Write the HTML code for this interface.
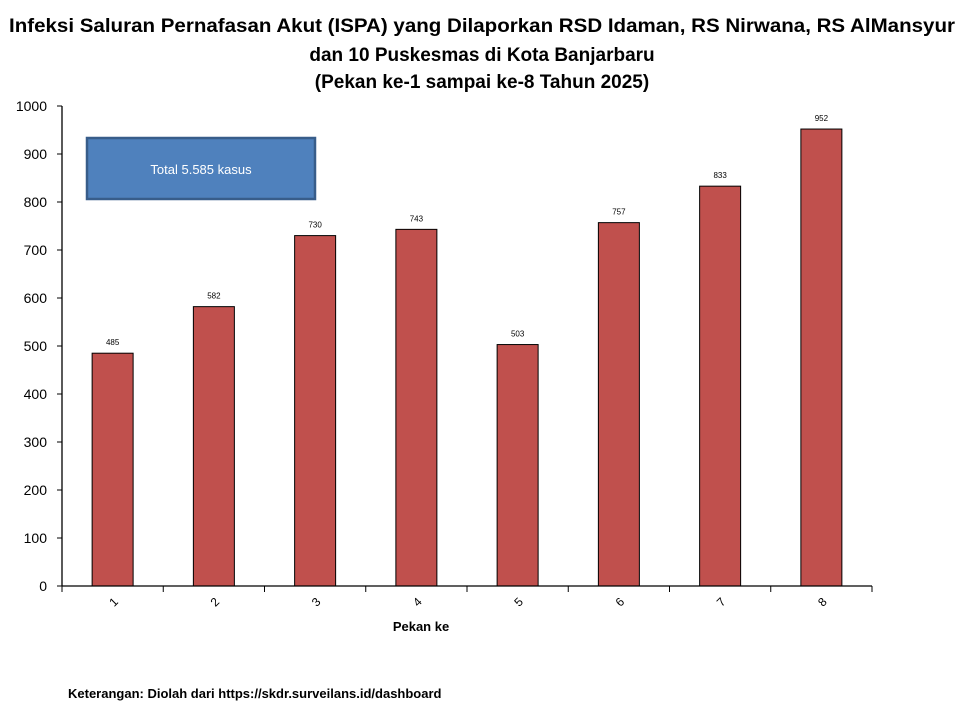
<!DOCTYPE html>
<html><head><meta charset="utf-8"><style>
body{margin:0;background:#fff;width:960px;height:720px;overflow:hidden;font-family:"Liberation Sans",sans-serif}
svg{display:block}
</style></head><body>
<svg width="960" height="720" xmlns="http://www.w3.org/2000/svg">
<g font-family="Liberation Sans, sans-serif" font-weight="bold" font-size="19" text-anchor="middle" fill="#000">
<text x="482" y="32" textLength="946" lengthAdjust="spacingAndGlyphs">Infeksi Saluran Pernafasan Akut (ISPA) yang Dilaporkan RSD Idaman, RS Nirwana, RS AlMansyur</text>
<text x="482" y="61">dan 10 Puskesmas di Kota Banjarbaru</text>
<text x="482" y="88">(Pekan ke-1 sampai ke-8 Tahun 2025)</text>
</g>
<g id="plot"></g>
<g>
<rect x="87" y="138" width="228" height="61" fill="#4f81bd" stroke="#385d8a" stroke-width="2.5"/>
<text x="201" y="174" font-size="13" fill="#fff" text-anchor="middle">Total 5.585 kasus</text>
</g>
<text x="421" y="631" font-size="13" font-weight="bold" text-anchor="middle">Pekan ke</text>
<text x="68" y="698" font-size="13" font-weight="bold">Keterangan: Diolah dari https://skdr.surveilans.id/dashboard</text>
</svg>
<script>
const categories = ["1","2","3","4","5","6","7","8"];
const values = [485,582,730,743,503,757,833,952];
const yTicks = [0,100,200,300,400,500,600,700,800,900,1000];
const NS="http://www.w3.org/2000/svg";
const x0=62,x1=872,y0=586,yTop=106,yMax=1000;
const yS=v=>y0-(v/yMax)*(y0-yTop);
const band=(x1-x0)/categories.length;
const xS=i=>x0+band*i;
const g=document.getElementById('plot');
function mk(t,a,p){const e=document.createElementNS(NS,t);for(const k in a)e.setAttribute(k,a[k]);(p||g).appendChild(e);return e;}
// bars
values.forEach((v,i)=>{
  const cx=xS(i)+band/2, w=41;
  const r=mk('rect',{x:cx-w/2,y:yS(v),width:w,height:y0-yS(v),fill:'#c0504d',stroke:'#000','stroke-width':1});
  
  
  const t=mk('text',{x:cx,y:yS(v)-8,'font-size':8,'text-anchor':'middle',fill:'#000'});
  t.textContent=v;
  
  
});
// y axis
const ya=mk('line',{x1:x0,y1:yTop,x2:x0,y2:y0,stroke:'#000','stroke-width':1.3});


yTicks.forEach(v=>{
  mk('line',{x1:x0-5,y1:yS(v),x2:x0,y2:yS(v),stroke:'#000','stroke-width':1});
  const t=mk('text',{x:47,y:yS(v)+5,'font-size':14,'text-anchor':'end',fill:'#000'});
  t.textContent=v;
  
  
});
// x axis
const xa=mk('line',{x1:x0,y1:y0,x2:x1,y2:y0,stroke:'#000','stroke-width':1.3});


for(let i=0;i<=categories.length;i++){mk('line',{x1:xS(i),y1:y0,x2:xS(i),y2:y0+6,stroke:'#000','stroke-width':1});}
categories.forEach((c,i)=>{
  const cx=xS(i)+band/2+1, cy=y0+20;
  const t=mk('text',{x:cx,y:cy,'font-size':12,'text-anchor':'middle',transform:`rotate(-45 ${cx} ${cy-4})`});
  t.textContent=c;
  
  
});
</script>
</body></html>
